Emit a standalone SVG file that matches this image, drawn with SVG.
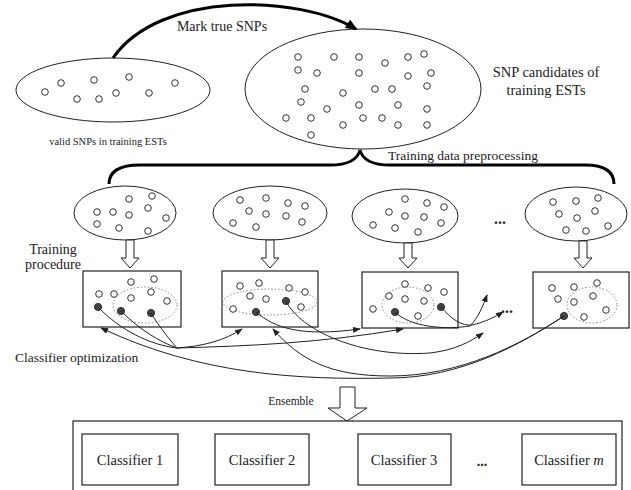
<svg xmlns="http://www.w3.org/2000/svg" width="631" height="490" viewBox="0 0 631 490" font-family="Liberation Serif, Times New Roman, serif">
<style>
text{font-family:"Liberation Serif","Times New Roman",serif;fill:#222}
.el{fill:#fff;stroke:#222;stroke-width:1}
.o{fill:#fff;stroke:#333;stroke-width:1}
.f{fill:#444;stroke:#333;stroke-width:1}
.box{fill:#fff;stroke:#222;stroke-width:1.2}
.dot{fill:none;stroke:#888;stroke-width:1;stroke-dasharray:1.5 2}
.thick{fill:none;stroke:#000;stroke-width:3}
.con{fill:none;stroke:#222;stroke-width:1}
.hol{fill:#fff;stroke:#222;stroke-width:1}
</style>
<defs>
<marker id="ah" markerWidth="8" markerHeight="6" refX="7" refY="3" orient="auto" markerUnits="userSpaceOnUse"><path d="M0,0 L8,3 L0,6 Z" fill="#222"/></marker>
<marker id="big" markerWidth="12" markerHeight="10" refX="10" refY="5" orient="auto" markerUnits="userSpaceOnUse"><path d="M0,0 L12,5 L0,10 Z" fill="#000"/></marker>
</defs>

<g id="valid-snps">
<ellipse class="el" cx="113" cy="90" rx="97" ry="32"/>
<g class="o">
<circle cx="45" cy="92" r="3.3"/><circle cx="61" cy="83" r="3.3"/><circle cx="77" cy="99" r="3.3"/><circle cx="94" cy="80" r="3.3"/><circle cx="99" cy="99" r="3.3"/><circle cx="116" cy="93" r="3.3"/><circle cx="129" cy="77" r="3.3"/><circle cx="149" cy="93" r="3.3"/><circle cx="175" cy="83" r="3.3"/>
</g>
<text x="108" y="145" font-size="10.5" text-anchor="middle">valid SNPs in training ESTs</text>
</g>

<g id="snp-candidates">
<ellipse class="el" cx="363" cy="89" rx="118" ry="60"/>
<g class="o">
<circle cx="298" cy="57" r="3.3"/><circle cx="334" cy="57" r="3.3"/><circle cx="359" cy="57" r="3.3"/><circle cx="385" cy="63" r="3.3"/><circle cx="408" cy="57" r="3.3"/><circle cx="424" cy="54" r="3.3"/>
<circle cx="298" cy="70" r="3.3"/><circle cx="317" cy="73" r="3.3"/><circle cx="359" cy="73" r="3.3"/><circle cx="408" cy="76" r="3.3"/><circle cx="431" cy="73" r="3.3"/>
<circle cx="305" cy="89" r="3.3"/><circle cx="343" cy="93" r="3.3"/><circle cx="375" cy="89" r="3.3"/><circle cx="392" cy="89" r="3.3"/><circle cx="427" cy="86" r="3.3"/>
<circle cx="301" cy="102" r="3.3"/><circle cx="327" cy="109" r="3.3"/><circle cx="359" cy="105" r="3.3"/><circle cx="398" cy="105" r="3.3"/><circle cx="427" cy="109" r="3.3"/>
<circle cx="286" cy="118" r="3.3"/><circle cx="311" cy="118" r="3.3"/><circle cx="343" cy="125" r="3.3"/><circle cx="363" cy="118" r="3.3"/><circle cx="382" cy="118" r="3.3"/><circle cx="398" cy="125" r="3.3"/><circle cx="427" cy="125" r="3.3"/>
<circle cx="311" cy="135" r="3.3"/>
</g>
<text x="546" y="77" font-size="14.5" text-anchor="middle">SNP candidates of</text>
<text x="546" y="95" font-size="14.5" text-anchor="middle">training ESTs</text>
</g>

<g id="subset-1">
<ellipse class="el" cx="125" cy="213" rx="51" ry="27"/>
<g class="o">
<circle cx="97" cy="212" r="3.3"/><circle cx="113" cy="212" r="3.3"/><circle cx="129" cy="199" r="3.3"/><circle cx="152" cy="196" r="3.3"/><circle cx="148" cy="208" r="3.3"/><circle cx="129" cy="215" r="3.3"/><circle cx="166" cy="218" r="3.3"/><circle cx="97" cy="224" r="3.3"/><circle cx="119" cy="228" r="3.3"/><circle cx="148" cy="231" r="3.3"/>
</g>
</g>
<g id="subset-2">
<ellipse class="el" cx="270" cy="213" rx="57" ry="27"/>
<g class="o">
<circle cx="240" cy="200" r="3.3"/><circle cx="266" cy="198" r="3.3"/><circle cx="288" cy="203" r="3.3"/><circle cx="305" cy="206" r="3.3"/><circle cx="249" cy="211" r="3.3"/><circle cx="266" cy="214" r="3.3"/><circle cx="286" cy="216" r="3.3"/><circle cx="233" cy="223" r="3.3"/><circle cx="256" cy="227" r="3.3"/><circle cx="302" cy="222" r="3.3"/>
</g>
</g>
<g id="subset-3">
<ellipse class="el" cx="405" cy="216" rx="53" ry="27"/>
<g class="o">
<circle cx="405" cy="199" r="3.3"/><circle cx="427" cy="203" r="3.3"/><circle cx="444" cy="207" r="3.3"/><circle cx="389" cy="212" r="3.3"/><circle cx="405" cy="216" r="3.3"/><circle cx="424" cy="217" r="3.3"/><circle cx="441" cy="223" r="3.3"/><circle cx="373" cy="225" r="3.3"/><circle cx="395" cy="228" r="3.3"/><circle cx="418" cy="232" r="3.3"/>
</g>
</g>
<text x="500" y="224" font-size="16" font-weight="bold" text-anchor="middle">...</text>
<g id="subset-m">
<ellipse class="el" cx="576" cy="214" rx="51" ry="27"/>
<g class="o">
<circle cx="553" cy="202" r="3.3"/><circle cx="576" cy="201" r="3.3"/><circle cx="598" cy="198" r="3.3"/><circle cx="559" cy="214" r="3.3"/><circle cx="577" cy="218" r="3.3"/><circle cx="595" cy="211" r="3.3"/><circle cx="566" cy="230" r="3.3"/><circle cx="586" cy="231" r="3.3"/><circle cx="608" cy="226" r="3.3"/>
</g>
</g>

<text x="53" y="254" font-size="14" text-anchor="middle">Training</text>
<text x="53" y="269" font-size="14" text-anchor="middle">procedure</text>

<g id="hollow-arrows" class="hol">
<polygon points="126,240 134,240 134,258 139,258 130,268 121,258 126,258"/>
<polygon points="266,240 274,240 274,258 279,258 270,268 261,258 266,258"/>
<polygon points="404,243 412,243 412,258 417,258 408,268 399,258 404,258"/>
<polygon points="579,241 587,241 587,258 592,258 583,268 574,258 579,258"/>
</g>

<g id="box-1">
<rect class="box" x="83" y="271" width="98" height="56"/>
<ellipse class="dot" cx="145" cy="305" rx="32" ry="18"/>
<g class="o"><circle cx="131" cy="282" r="3.3"/><circle cx="154" cy="279" r="3.3"/><circle cx="99" cy="294" r="3.3"/><circle cx="114" cy="294" r="3.3"/><circle cx="131" cy="298" r="3.3"/><circle cx="151" cy="292" r="3.3"/><circle cx="167" cy="301" r="3.3"/></g>
<g class="f"><circle cx="98" cy="307" r="3.6"/><circle cx="121" cy="311" r="3.6"/><circle cx="151" cy="313" r="3.6"/></g>
</g>
<g id="box-2">
<rect class="box" x="222" y="271" width="96" height="56"/>
<ellipse class="dot" cx="270" cy="302" rx="47" ry="13"/>
<g class="o"><circle cx="240" cy="286" r="3.3"/><circle cx="259" cy="283" r="3.3"/><circle cx="289" cy="288" r="3.3"/><circle cx="305" cy="292" r="3.3"/><circle cx="250" cy="296" r="3.3"/><circle cx="266" cy="299" r="3.3"/><circle cx="301" cy="307" r="3.3"/><circle cx="233" cy="309" r="3.3"/></g>
<g class="f"><circle cx="286" cy="301" r="3.6"/><circle cx="256" cy="312" r="3.6"/></g>
</g>
<g id="box-3">
<rect class="box" x="362" y="272" width="96" height="56"/>
<ellipse class="dot" cx="408" cy="305" rx="26" ry="18"/>
<g class="o"><circle cx="405" cy="284" r="3.3"/><circle cx="428" cy="288" r="3.3"/><circle cx="444" cy="292" r="3.3"/><circle cx="389" cy="296" r="3.3"/><circle cx="405" cy="299" r="3.3"/><circle cx="424" cy="301" r="3.3"/><circle cx="373" cy="309" r="3.3"/><circle cx="418" cy="316" r="3.3"/></g>
<g class="f"><circle cx="395" cy="312" r="3.6"/><circle cx="441" cy="307" r="3.6"/></g>
</g>
<text x="507" y="313" font-size="16" font-weight="bold" text-anchor="middle">...</text>
<g id="box-m">
<rect class="box" x="533" y="272" width="96" height="56"/>
<ellipse class="dot" cx="592" cy="305" rx="25" ry="18"/>
<g class="o"><circle cx="552" cy="288" r="3.3"/><circle cx="574" cy="287" r="3.3"/><circle cx="597" cy="283" r="3.3"/><circle cx="558" cy="299" r="3.3"/><circle cx="574" cy="302" r="3.3"/><circle cx="593" cy="296" r="3.3"/><circle cx="584" cy="317" r="3.3"/><circle cx="606" cy="310" r="3.3"/></g>
<g class="f"><circle cx="564" cy="316" r="3.6"/></g>
</g>

<text x="15" y="362" font-size="13.5">Classifier optimization</text>

<g id="connectors">
<path class="thick" d="M113,58 C160,-10 300,-5 356,29" marker-end="url(#big)"/>
<text x="222" y="31" font-size="14" text-anchor="middle">Mark true SNPs</text>
<path class="thick" d="M109,184 C109,172 118,165 140,165 L330,165 C350,165 358,158 360,150 C362,158 370,165 390,165 L585,165 C605,165 614,172 614,184"/>
<text x="463" y="160" font-size="13.5" text-anchor="middle">Training data preprocessing</text>

<path class="con" d="M98,307 C120,330 150,345 177,348"/>
<path class="con" d="M121,311 C140,330 160,342 177,348"/>
<path class="con" d="M151,313 C160,328 170,340 177,348"/>
<path class="con" d="M177,348 C205,346 225,340 242,329" marker-end="url(#ah)"/>
<path class="con" d="M177,348 C250,346 320,343 403,329" marker-end="url(#ah)"/>
<path class="con" d="M256,312 C275,328 300,337 360,329" marker-end="url(#ah)"/>
<path class="con" d="M286,301 C300,330 360,358 430,353 C455,350 470,342 483,333" marker-end="url(#ah)"/>
<path class="con" d="M395,312 C410,327 445,330 470,326 C478,318 483,306 487,295" marker-end="url(#ah)"/>
<path class="con" d="M441,307 C452,320 462,326 472,325 C485,322 495,317 503,312" marker-end="url(#ah)"/>
<path class="con" d="M564,316 C520,345 460,378 390,378 C300,380 200,375 101,328" marker-end="url(#ah)"/>
<path class="con" d="M564,316 C520,345 460,376 390,376 C330,376 300,360 273,329" marker-end="url(#ah)"/>
</g>

<text x="291" y="405" font-size="11.5" text-anchor="middle">Ensemble</text>
<polygon class="hol" points="340,387 355,387 355,408 367,408 347,421 328,408 340,408"/>

<g id="ensemble">
<rect class="box" x="73" y="421" width="549" height="72"/>
<g id="classifier-1"><rect class="box" x="82" y="434" width="96" height="51"/><text x="130" y="465" font-size="14.5" text-anchor="middle">Classifier 1</text></g>
<g id="classifier-2"><rect class="box" x="215" y="434" width="94" height="51"/><text x="262" y="465" font-size="14.5" text-anchor="middle">Classifier 2</text></g>
<g id="classifier-3"><rect class="box" x="358" y="434" width="93" height="51"/><text x="404" y="465" font-size="14.5" text-anchor="middle">Classifier 3</text></g>
<text x="482" y="466" font-size="14" font-weight="bold" text-anchor="middle">...</text>
<g id="classifier-m"><rect class="box" x="522" y="434" width="94" height="51"/><text x="569" y="465" font-size="14.5" text-anchor="middle">Classifier <tspan font-style="italic">m</tspan></text></g>
</g>
</svg>
